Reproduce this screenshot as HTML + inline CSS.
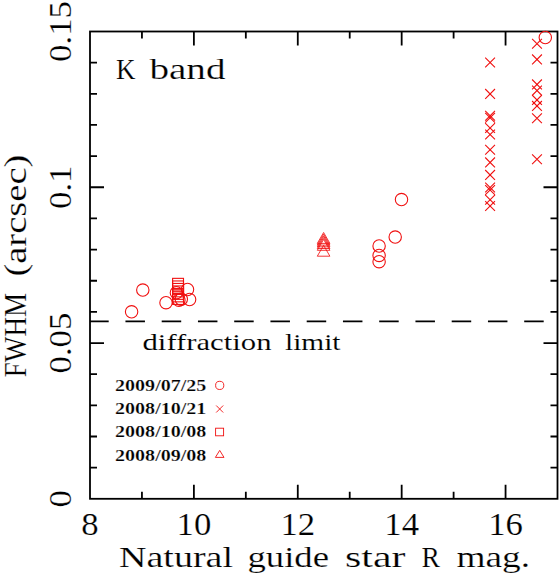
<!DOCTYPE html><html><head><meta charset="utf-8"><style>html,body{margin:0;padding:0;background:#fff;width:560px;height:575px;overflow:hidden}svg{display:block}</style></head><body><svg width="560" height="575" viewBox="0 0 560 575"><rect x="90.0" y="31.5" width="467.5" height="467.3" fill="none" stroke="#000" stroke-width="1.8"/>
<path d="M141.94 498.8v-7M141.94 31.5v7M193.89 498.8v-14M193.89 31.5v14M245.83 498.8v-7M245.83 31.5v7M297.78 498.8v-14M297.78 31.5v14M349.72 498.8v-7M349.72 31.5v7M401.67 498.8v-14M401.67 31.5v14M453.61 498.8v-7M453.61 31.5v7M505.56 498.8v-14M505.56 31.5v14M90.0 467.65h7M557.5 467.65h-7M90.0 436.49h7M557.5 436.49h-7M90.0 405.34h7M557.5 405.34h-7M90.0 374.19h7M557.5 374.19h-7M90.0 343.03h14M557.5 343.03h-14M90.0 311.88h7M557.5 311.88h-7M90.0 280.73h7M557.5 280.73h-7M90.0 249.57h7M557.5 249.57h-7M90.0 218.42h7M557.5 218.42h-7M90.0 187.27h14M557.5 187.27h-14M90.0 156.11h7M557.5 156.11h-7M90.0 124.96h7M557.5 124.96h-7M90.0 93.81h7M557.5 93.81h-7M90.0 62.65h7M557.5 62.65h-7" fill="none" stroke="#000" stroke-width="1.8"/>
<line x1="90.0" y1="321.4" x2="557.5" y2="321.4" stroke="#000" stroke-width="1.8" stroke-dasharray="19.5 16.75" stroke-dashoffset="0.8"/>
<g fill="none" stroke="#f01010" stroke-width="1.1"><circle cx="131.6" cy="311.8" r="6.2"/><circle cx="142.8" cy="290.1" r="6.2"/><circle cx="166.0" cy="302.7" r="6.2"/><circle cx="187.5" cy="289.5" r="6.2"/><circle cx="189.6" cy="299.5" r="6.2"/><circle cx="176.4" cy="292.7" r="6.2"/><circle cx="178.9" cy="300.2" r="6.2"/><circle cx="181.3" cy="299.3" r="6.2"/><circle cx="401.5" cy="199.6" r="6.2"/><circle cx="395.2" cy="237.1" r="6.2"/><circle cx="379.1" cy="246" r="6.2"/><circle cx="379.1" cy="255.4" r="6.2"/><circle cx="379.1" cy="261.7" r="6.2"/><circle cx="545.3" cy="37.5" r="6.2"/><rect x="172.60" y="278.35" width="10.9" height="10.9"/><rect x="172.60" y="280.95" width="10.9" height="10.9"/><rect x="172.60" y="283.45" width="10.9" height="10.9"/><rect x="172.60" y="285.95" width="10.9" height="10.9"/><rect x="172.60" y="288.45" width="10.9" height="10.9"/><rect x="172.60" y="290.95" width="10.9" height="10.9"/><rect x="172.60" y="293.55" width="10.9" height="10.9"/><path stroke-width="0.85" d="M317.3 243.4h12.6l-6.3 -10.9z"/><path stroke-width="0.85" d="M317.3 245.1h12.6l-6.3 -10.9z"/><path stroke-width="0.85" d="M317.3 246.8h12.6l-6.3 -10.9z"/><path stroke-width="0.85" d="M317.3 248.5h12.6l-6.3 -10.9z"/><path stroke-width="0.85" d="M317.3 250.3h12.6l-6.3 -10.9z"/><path stroke-width="0.85" d="M317.3 256.2h12.6l-6.3 -10.9z"/><path d="M485.20000000000005 57.6l9.8 9.8M495.0 57.6l-9.8 9.8M485.20000000000005 89.0l9.8 9.8M495.0 89.0l-9.8 9.8M485.20000000000005 110.8l9.8 9.8M495.0 110.8l-9.8 9.8M485.20000000000005 112.8l9.8 9.8M495.0 112.8l-9.8 9.8M485.20000000000005 123.1l9.8 9.8M495.0 123.1l-9.8 9.8M485.20000000000005 129.6l9.8 9.8M495.0 129.6l-9.8 9.8M485.20000000000005 144.9l9.8 9.8M495.0 144.9l-9.8 9.8M485.20000000000005 157.5l9.8 9.8M495.0 157.5l-9.8 9.8M485.20000000000005 170.0l9.8 9.8M495.0 170.0l-9.8 9.8M485.20000000000005 182.6l9.8 9.8M495.0 182.6l-9.8 9.8M485.20000000000005 185.1l9.8 9.8M495.0 185.1l-9.8 9.8M485.20000000000005 194.9l9.8 9.8M495.0 194.9l-9.8 9.8M485.20000000000005 201.1l9.8 9.8M495.0 201.1l-9.8 9.8M532.1 38.800000000000004l9.8 9.8M541.9 38.800000000000004l-9.8 9.8M532.1 54.5l9.8 9.8M541.9 54.5l-9.8 9.8M532.1 79.5l9.8 9.8M541.9 79.5l-9.8 9.8M532.1 85.69999999999999l9.8 9.8M541.9 85.69999999999999l-9.8 9.8M532.1 95.0l9.8 9.8M541.9 95.0l-9.8 9.8M532.1 101.0l9.8 9.8M541.9 101.0l-9.8 9.8M532.1 113.39999999999999l9.8 9.8M541.9 113.39999999999999l-9.8 9.8M532.1 154.29999999999998l9.8 9.8M541.9 154.29999999999998l-9.8 9.8"/></g>
<g fill="none" stroke="#f01010" stroke-width="0.9"><circle cx="219.7" cy="385.4" r="4.1"/><path d="M216.2 405.5l7 7M223.2 405.5l-7 7"/><rect x="215.6" y="428.2" width="8" height="7.6"/><path d="M215.4 457.4h8.6l-4.3 -7z"/></g>
<text transform="translate(90.00 535.2) scale(1.07 1)" font-family="Liberation Serif" stroke="#fff" stroke-width="0.2" font-size="32.5" text-anchor="middle">8</text>
<text transform="translate(193.89 535.2) scale(1.07 1)" font-family="Liberation Serif" stroke="#fff" stroke-width="0.2" font-size="32.5" text-anchor="middle">10</text>
<text transform="translate(297.78 535.2) scale(1.07 1)" font-family="Liberation Serif" stroke="#fff" stroke-width="0.2" font-size="32.5" text-anchor="middle">12</text>
<text transform="translate(401.67 535.2) scale(1.07 1)" font-family="Liberation Serif" stroke="#fff" stroke-width="0.2" font-size="32.5" text-anchor="middle">14</text>
<text transform="translate(505.56 535.2) scale(1.07 1)" font-family="Liberation Serif" stroke="#fff" stroke-width="0.2" font-size="32.5" text-anchor="middle">16</text>
<text x="118.99" y="567.0" font-family="Liberation Serif" stroke="#fff" stroke-width="0.2" font-size="30" textLength="114.02" lengthAdjust="spacingAndGlyphs">Natural</text>
<text x="247.49" y="567.0" font-family="Liberation Serif" stroke="#fff" stroke-width="0.2" font-size="30" textLength="81.51" lengthAdjust="spacingAndGlyphs">guide</text>
<text x="345.01" y="567.0" font-family="Liberation Serif" stroke="#fff" stroke-width="0.2" font-size="30" textLength="60.51" lengthAdjust="spacingAndGlyphs">star</text>
<text x="421.56" y="567.0" font-family="Liberation Serif" stroke="#fff" stroke-width="0.2" font-size="30" textLength="18.44" lengthAdjust="spacingAndGlyphs">R</text>
<text x="456.49" y="567.0" font-family="Liberation Serif" stroke="#fff" stroke-width="0.2" font-size="30" textLength="73.55" lengthAdjust="spacingAndGlyphs">mag.</text>
<text x="116.02" y="78.5" font-family="Liberation Serif" stroke="#fff" stroke-width="0.2" font-size="30" textLength="19.49" lengthAdjust="spacingAndGlyphs">K</text>
<text x="149.48" y="78.5" font-family="Liberation Serif" stroke="#fff" stroke-width="0.2" font-size="30" textLength="76.03" lengthAdjust="spacingAndGlyphs">band</text>
<text x="142.50" y="349.6" font-family="Liberation Serif" stroke="#fff" stroke-width="0.1" font-size="23" textLength="129.00" lengthAdjust="spacingAndGlyphs">diffraction</text>
<text x="285.01" y="349.6" font-family="Liberation Serif" stroke="#fff" stroke-width="0.1" font-size="23" textLength="55.51" lengthAdjust="spacingAndGlyphs">limit</text>
<text transform="translate(70.6 498.80) rotate(-90) scale(1.07 1)" x="0" y="0" font-family="Liberation Serif" stroke="#fff" stroke-width="0.2" font-size="32.5" text-anchor="middle">0</text>
<text transform="translate(70.6 343.03) rotate(-90) scale(1.07 1)" x="0" y="0" font-family="Liberation Serif" stroke="#fff" stroke-width="0.2" font-size="32.5" text-anchor="middle">0.05</text>
<text transform="translate(70.6 187.27) rotate(-90) scale(1.07 1)" x="0" y="0" font-family="Liberation Serif" stroke="#fff" stroke-width="0.2" font-size="32.5" text-anchor="middle">0.1</text>
<text transform="translate(70.6 31.50) rotate(-90) scale(1.07 1)" x="0" y="0" font-family="Liberation Serif" stroke="#fff" stroke-width="0.2" font-size="32.5" text-anchor="middle">0.15</text>
<text transform="translate(26.0 377.3) rotate(-90)" x="0" y="0" font-family="Liberation Serif" stroke="#fff" stroke-width="0.2" font-size="31.5" textLength="84.4" lengthAdjust="spacingAndGlyphs">FWHM</text>
<text transform="translate(26.0 276.6) rotate(-90)" x="0" y="0" font-family="Liberation Serif" stroke="#fff" stroke-width="0.2" font-size="31.5" textLength="122" lengthAdjust="spacingAndGlyphs">(arcsec)</text>
<text x="115" y="390.8" font-family="Liberation Serif" font-weight="bold" stroke="#fff" stroke-width="0.2" font-size="16" textLength="91.4" lengthAdjust="spacingAndGlyphs">2009/07/25</text>
<text x="115" y="413.9" font-family="Liberation Serif" font-weight="bold" stroke="#fff" stroke-width="0.2" font-size="16" textLength="91.4" lengthAdjust="spacingAndGlyphs">2008/10/21</text>
<text x="115" y="437.1" font-family="Liberation Serif" font-weight="bold" stroke="#fff" stroke-width="0.2" font-size="16" textLength="91.4" lengthAdjust="spacingAndGlyphs">2008/10/08</text>
<text x="115" y="460.7" font-family="Liberation Serif" font-weight="bold" stroke="#fff" stroke-width="0.2" font-size="16" textLength="91.4" lengthAdjust="spacingAndGlyphs">2008/09/08</text></svg></body></html>
